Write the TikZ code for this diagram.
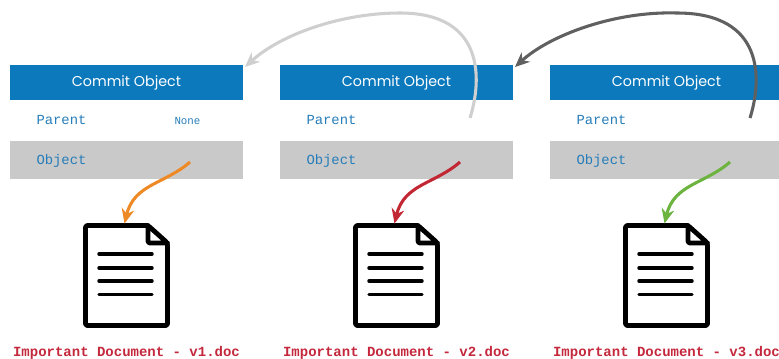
\documentclass[tikz,border=0pt]{standalone}
\usepackage{fontspec}
\setmainfont{Poppins}
\setmonofont{Liberation Mono}
\usetikzlibrary{arrows.meta}

\tikzset{every picture/.style={line width=0.75pt}}
\tikzset{
  headbox/.style={fill={rgb, 255:red, 11; green, 121; blue, 188 },text=white,anchor=north west,inner sep=0pt,outer sep=0pt,minimum width=174.75pt,minimum height=26.25pt,font=\fontsize{10.7}{12}\selectfont},
  objbox/.style={fill={rgb, 255:red, 201; green, 201; blue, 201 },anchor=north west,inner sep=0pt,outer sep=0pt,minimum width=174.75pt,minimum height=28.5pt},
  fieldtext/.style={color={rgb, 255:red, 38; green, 125; blue, 185 },anchor=west,inner sep=0.75pt,font=\ttfamily\fontsize{10.4}{12}\selectfont},
  valuetext/.style={color={rgb, 255:red, 38; green, 125; blue, 185 },anchor=west,inner sep=0.75pt,font=\ttfamily\fontsize{8.1}{10}\selectfont},
  doctext/.style={color={rgb, 255:red, 196; green, 40; blue, 60 },inner sep=0.75pt,font=\ttfamily\bfseries\fontsize{10.5}{12}\selectfont},
  docbox/.style={inner sep=0pt,outer sep=0pt,minimum width=65pt,minimum height=78pt},
  docline/.style={line width=3.6pt,line join=round,line cap=round,rounded corners=1.5pt},
  docrule/.style={line width=2.6pt,line cap=round},
  linkcurve/.style={line width=2.3pt,-{Stealth[length=11pt,width=9.5pt]}},
}

\begin{document}
\begin{tikzpicture}[x=0.75pt,y=0.75pt,yscale=-1,xscale=1]
\useasboundingbox (0,0) rectangle (779,358);

%Commit boxes
\node [headbox] (head1) at (10,65) {Commit Object};
\node [headbox] (head2) at (280,65) {Commit Object};
\node [headbox] (head3) at (550,65) {Commit Object};
\node [objbox] (obj1) at (10,141) {};
\node [objbox] (obj2) at (280,141) {};
\node [objbox] (obj3) at (550,141) {};

%Field texts
\node [fieldtext] (parent1) at (35,120) {Parent};
\node [fieldtext] (parent2) at (305,120) {Parent};
\node [fieldtext] (parent3) at (575,120) {Parent};
\node [valuetext] (none1) at (173,121) {None};
\node [fieldtext] (object1) at (35,161) {Object};
\node [fieldtext] (object2) at (305,161) {Object};
\node [fieldtext] (object3) at (575,161) {Object};

%Document 1
\node [docbox] (doc1) at (126.5,275.5) {};
\draw [docline] (148,225.5) -- (85.5,225.5) -- (85.5,325.5) -- (167.5,325.5) -- (167.5,243) -- (148,225.5) -- (148,243) -- (167.5,243) ;
\draw [docrule] (99,254) -- (152,254) (99,268) -- (152,268) (99,281) -- (152,281) (99,294.5) -- (152,294.5) ;
%Document 2
\node [docbox] (doc2) at (396.5,275.5) {};
\draw [docline] (418,225.5) -- (355.5,225.5) -- (355.5,325.5) -- (437.5,325.5) -- (437.5,243) -- (418,225.5) -- (418,243) -- (437.5,243) ;
\draw [docrule] (369,254) -- (422,254) (369,268) -- (422,268) (369,281) -- (422,281) (369,294.5) -- (422,294.5) ;
%Document 3
\node [docbox] (doc3) at (666.5,275.5) {};
\draw [docline] (688,225.5) -- (625.5,225.5) -- (625.5,325.5) -- (707.5,325.5) -- (707.5,243) -- (688,225.5) -- (688,243) -- (707.5,243) ;
\draw [docrule] (639,254) -- (692,254) (639,268) -- (692,268) (639,281) -- (692,281) (639,294.5) -- (692,294.5) ;

% Text Node
\node [doctext] (name1) at (126.5,353) {Important Document - v1.doc};
\node [doctext] (name2) at (396.5,353) {Important Document - v2.doc};
\node [doctext] (name3) at (666.5,353) {Important Document - v3.doc};

%Curve ends
\coordinate (tail1) at (190,162);
\coordinate (tail2) at (460,162);
\coordinate (tail3) at (730,162);
\coordinate (back2) at (470,118);
\coordinate (back3) at (750,118);

%Curve Lines
\draw [linkcurve,color={rgb, 255:red, 238; green, 138; blue, 37 }] (tail1) .. controls (165,184) and (134,184) .. ([shift={(-2,0)}]doc1.north) ;
\draw [linkcurve,color={rgb, 255:red, 194; green, 39; blue, 52 }] (tail2) .. controls (435,184) and (404,184) .. ([shift={(-2,0)}]doc2.north) ;
\draw [linkcurve,color={rgb, 255:red, 109; green, 179; blue, 63 }] (tail3) .. controls (705,184) and (674,184) .. ([shift={(-2,0)}]doc3.north) ;
\draw [linkcurve,color={rgb, 255:red, 207; green, 207; blue, 207 }] (back2) .. controls (482,80) and (485,13) .. (400,13) .. controls (340,13) and (280,35) .. ([shift={(2,2)}]head1.north east) ;
\draw [linkcurve,color={rgb, 255:red, 96; green, 96; blue, 96 }] (back3) .. controls (762,80) and (765,13) .. (677,13) .. controls (615,11) and (550,35) .. ([shift={(2,2)}]head2.north east) ;

\end{tikzpicture}
\end{document}
